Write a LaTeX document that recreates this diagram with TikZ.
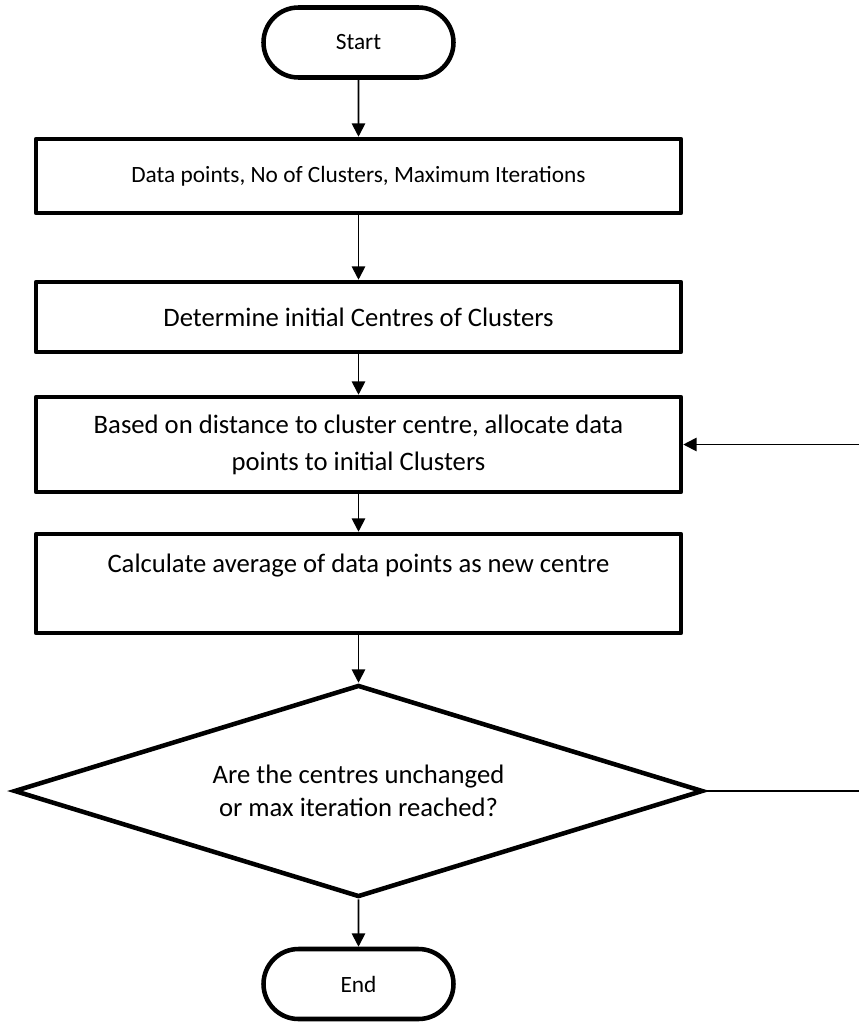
\documentclass[tikz,border=0pt]{standalone}
\usepackage{fontspec}
\setmainfont{Carlito}
\usetikzlibrary{shapes.misc,shapes.geometric,arrows.meta}
\begin{document}
\begin{tikzpicture}[x=0.75pt,y=-0.75pt,
  shapeline/.style={draw=black, line width=3.4pt, line join=round, outer sep=1.7pt, inner sep=0pt},
  terminal/.style={shapeline, rounded rectangle, minimum width=142.5pt, minimum height=52.5pt, font=\fontsize{17.5}{20}\selectfont},
  procbox/.style={shapeline, rectangle, minimum width=483.75pt, align=center, font=\fontsize{20}{27.75}\selectfont},
  smallbox/.style={procbox, font=\fontsize{17.5}{20}\selectfont},
  decision/.style={shapeline, diamond, aspect=3.25, line join=miter, minimum width=516.75pt, minimum height=159pt, align=center, font=\fontsize{20}{24.75}\selectfont},
  flow/.style={line width=1.4pt, -{Triangle[length=10pt,width=10pt]}},
]
\useasboundingbox (0,0) rectangle (859,1025);
\fill[white] (0,0) rectangle (859,1025);
\clip (0,0) rectangle (859,1025);

% process steps, top to bottom
\node[terminal] (start) at (358.5,42.5) {Start};
\node[smallbox, minimum height=55.5pt] (input) at (358.5,176) {Data points, No of Clusters, Maximum Iterations};
\node[procbox, minimum height=52.5pt] (init) at (358.5,317) {Determine initial Centres of Clusters};
\node[procbox, minimum height=71.25pt] (assign) at (358.5,444.5) {Based on distance to cluster centre, allocate data\strut\\points to initial Clusters\strut};
\node[procbox, minimum height=74.25pt] (update) at (358.5,583.5) {Calculate average of data points as new centre\strut\\\strut};
\node[decision] (check) at (358.5,791) {Are the centres unchanged\\or max iteration reached?};
\node[terminal] (stop) at (358.5,984) {End};

% main flow
\draw[flow] (start) -- (input);
\draw[flow] (input) -- (init);
\draw[flow] (init) -- (assign);
\draw[flow] (assign) -- (update);
\draw[flow] (update) -- (check);
\draw[flow] (check) -- (stop);

% loop back to the allocation step (vertical run lies past the right edge)
\coordinate (loopcorner) at (864,791);
\draw[flow] (check.east) -- (loopcorner) |- (assign.east);
\end{tikzpicture}
\end{document}
